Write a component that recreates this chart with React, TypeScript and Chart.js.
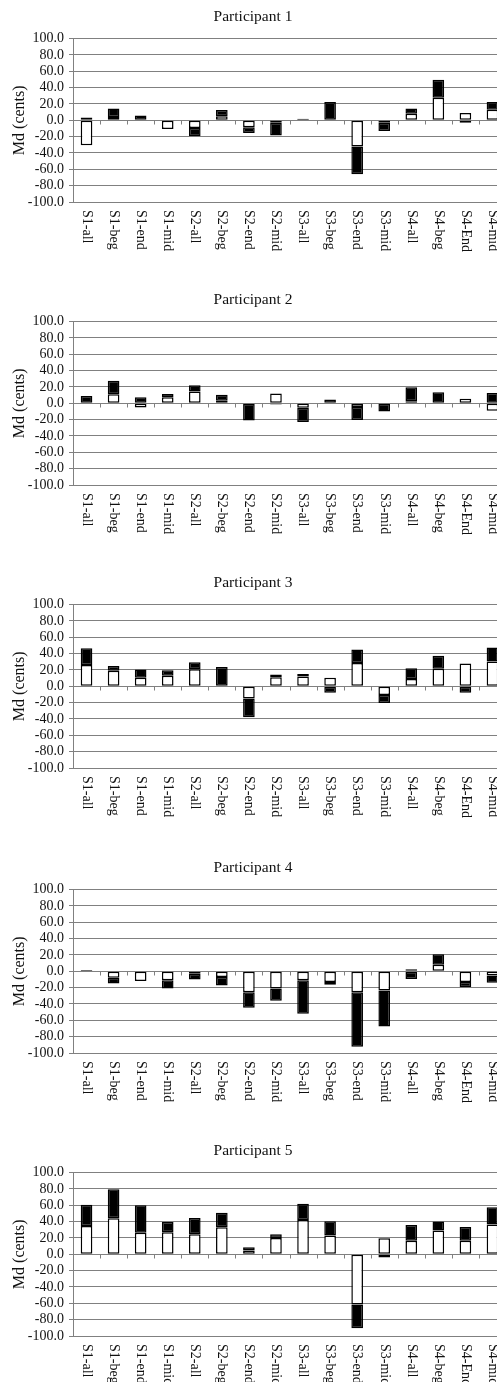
import React, { useEffect, useRef } from "react";
import { Chart, registerables } from "chart.js";

Chart.register(...registerables);

const categories = [
  "S1-all", "S1-beg", "S1-end", "S1-mid",
  "S2-all", "S2-beg", "S2-end", "S2-mid",
  "S3-all", "S3-beg", "S3-end", "S3-mid",
  "S4-all", "S4-beg", "S4-End", "S4-mid",
];

const titles = ["Participant 1", "Participant 2", "Participant 3", "Participant 4", "Participant 5"];
const yTitle = "Md (cents)";
const yMin = -100;
const yMax = 100;
const yStep = 20;

const p1White = [-30.5, 4, 0, -10.5, -9.5, 5, -8.5, -3, 0, 0, -32, -3, 8, 27.5, 9, 13];
const p1Black = [3.5, 10.5, 6, 0, -10, 7.5, -7, -15.5, 2, 22.5, -34, -10, 6.5, 22, -3, 9.5];
const p2White = [0, 11, -5, 7.5, 14.5, 3, 0, 12, -5.5, 0, -4.5, 0, 2.5, 0, 5.5, -9];
const p2Black = [9, 16.5, 7.5, 4, 7.5, 7.5, -21, -1.5, -17.5, 4.5, -16, -10, 17, 13.5, -1, 12.5];
const p3White = [26, 19, 10.5, 13, 21, 0, -15, 11, 12, 10.5, 28.5, -10.5, 9, 21.5, 28, 30.5];
const p3Black = [20.5, 6, 10, 6.5, 8.5, 23.5, -23, 3.5, 3, -8, 16.5, -10, 13, 16, -8, 17];
const p4White = [0, -8, -12, -11, -3, -7, -25.5, -21, -11, -13, -25.5, -23.5, 2.5, 8, -13, -5];
const p4Black = [1.5, -7, 0, -10, -7, -10.5, -19, -15, -41, -3.5, -67, -44, -9.5, 13, -6.5, -9];
const p5White = [34.5, 44, 26.5, 27, 24.5, 33, 4.5, 20, 42, 23, -61.5, 19.5, 16.5, 29, 16.5, 36.5];
const p5Black = [26, 35.5, 33.5, 12.5, 20, 18, 4, 4.5, 20, 17.5, -29, -4, 19.5, 11, 17, 21];

const whiteSeries = [p1White, p2White, p3White, p4White, p5White];
const blackSeries = [p1Black, p2Black, p3Black, p4Black, p5Black];

const FONT = "'Liberation Serif', 'Times New Roman', serif";
const GRID = "#808080";
const TEXT = "#111111";
const CANVAS_W = 561;
const CANVAS_H = 283;
const panelTops = [0, 283, 566, 851, 1134];

const decorPlugin = {
  id: "decor",
  afterDraw(chart: any) {
    const { ctx, chartArea, scales } = chart;
    const x = scales.x;
    const y = scales.y;
    const y0 = Math.round(y.getPixelForValue(0)) + 0.5;
    ctx.save();
    ctx.strokeStyle = GRID;
    ctx.lineWidth = 1;
    ctx.beginPath();
    for (let i = 1; i < categories.length; i++) {
      const px = Math.round((x.getPixelForTick(i - 1) + x.getPixelForTick(i)) / 2) + 0.5;
      ctx.moveTo(px, y0);
      ctx.lineTo(px, y0 + 4);
    }
    ctx.stroke();
    ctx.fillStyle = TEXT;
    ctx.font = `14px ${FONT}`;
    ctx.textAlign = "left";
    ctx.textBaseline = "middle";
    categories.forEach((lab, i) => {
      ctx.save();
      ctx.translate(x.getPixelForTick(i), chartArea.bottom + 8);
      ctx.rotate(Math.PI / 2);
      ctx.fillText(lab, 0, 0);
      ctx.restore();
    });
    ctx.restore();
  },
};

function Panel({ idx }: { idx: number }) {
  const ref = useRef<HTMLCanvasElement | null>(null);
  useEffect(() => {
    if (!ref.current) return;
    const chart = new Chart(ref.current, {
      type: "bar",
      data: {
        labels: categories,
        datasets: [
          {
            label: "white",
            data: whiteSeries[idx],
            backgroundColor: "#ffffff",
            borderColor: "#000000",
            borderWidth: 1.5,
            borderSkipped: false,
            categoryPercentage: 1,
            barPercentage: 0.43,
          },
          {
            label: "black",
            data: blackSeries[idx],
            backgroundColor: "#000000",
            borderColor: "#000000",
            borderWidth: 1.5,
            borderSkipped: false,
            categoryPercentage: 1,
            barPercentage: 0.43,
          },
        ],
      },
      options: {
        responsive: false,
        animation: false,
        devicePixelRatio: 1,
        layout: { padding: { left: 0, right: 55, top: 0, bottom: 0 } },
        plugins: {
          legend: { display: false },
          tooltip: { enabled: false },
          title: {
            display: true,
            text: titles[idx],
            color: TEXT,
            font: { family: FONT, size: 15.5, weight: "normal" },
            padding: { top: 8, bottom: 12 },
          },
        },
        scales: {
          x: {
            type: "category",
            stacked: true,
            offset: true,
            grid: { display: false },
            border: { display: false },
            ticks: { display: false },
            afterFit: (s: any) => {
              s.height = 81;
            },
          },
          y: {
            stacked: true,
            min: yMin,
            max: yMax,
            ticks: {
              stepSize: yStep,
              autoSkip: false,
              color: TEXT,
              font: { family: FONT, size: 14 },
              padding: 5,
              callback: (v: any) => Number(v).toFixed(1),
            },
            grid: { color: GRID, lineWidth: 1, tickLength: 4, drawTicks: true },
            border: { display: true, color: GRID, width: 1 },
            title: {
              display: true,
              text: yTitle,
              color: TEXT,
              font: { family: FONT, size: 16 },
              padding: { top: 10, bottom: 0 },
            },
            afterFit: (s: any) => {
              s.width = 73;
            },
          },
        },
      },
      plugins: [decorPlugin],
    });
    return () => chart.destroy();
  }, [idx]);
  return (
    <div style={{ position: "absolute", left: 0, top: panelTops[idx], width: CANVAS_W, height: CANVAS_H }}>
      <canvas ref={ref} width={CANVAS_W} height={CANVAS_H} style={{ width: CANVAS_W, height: CANVAS_H, display: "block" }} />
    </div>
  );
}

export default function App() {
  return (
    <div
      style={{
        position: "absolute",
        left: 0,
        top: 0,
        width: 497,
        height: 1382,
        overflow: "hidden",
        background: "#ffffff",
      }}
    >
      {titles.map((_, i) => (
        <Panel key={i} idx={i} />
      ))}
    </div>
  );
}
